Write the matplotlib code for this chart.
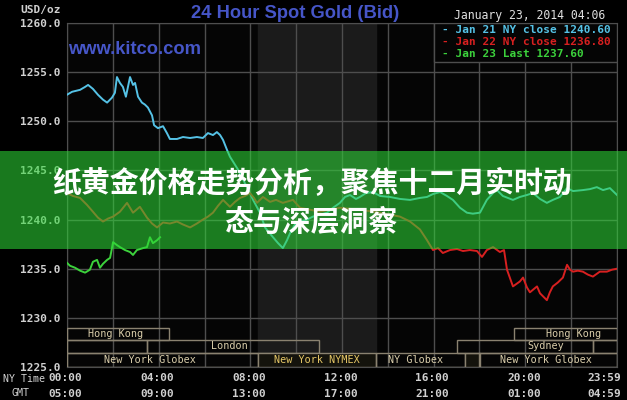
# Kitco 24 hour spot gold chart with a Chinese headline banner
import matplotlib
matplotlib.use('Agg')
import matplotlib.pyplot as plt
from matplotlib.patches import Rectangle

# ---- data (hours NY time, USD/oz) ----
jan21_h = [0.00, 0.22, 0.57, 0.79, 0.92, 1.13, 1.35, 1.57, 1.75, 1.96, 2.09, 2.18, 2.31, 2.44,
           2.57, 2.66, 2.75, 2.88, 2.97, 3.10, 3.27, 3.40, 3.53, 3.71, 3.80, 3.97, 4.19, 4.36,
           4.49, 4.80, 5.06, 5.37, 5.67, 5.93, 6.15, 6.37, 6.54, 6.68, 6.81, 6.98, 7.11, 7.46,
           7.85, 8.12, 8.42, 8.64, 8.99, 9.21, 9.42, 9.60, 9.73, 9.95, 10.17, 10.47, 10.73,
           11.04, 11.34, 11.61, 11.91, 12.13, 12.35, 12.61, 12.78, 13.05, 13.35, 13.66, 14.09,
           14.53, 14.97, 15.40, 15.71, 15.97, 16.28, 16.58, 16.84, 17.15, 17.45, 17.71, 18.02,
           18.32, 18.59, 18.76, 19.02, 19.46, 19.76, 20.07, 20.33, 20.64, 20.94, 21.20, 21.51,
           21.82, 22.08, 22.51, 22.82, 23.12, 23.39, 23.69, 24.00]
jan21_p = [1252.7, 1253.0, 1253.2, 1253.5, 1253.7, 1253.3, 1252.7, 1252.2, 1251.9, 1252.4,
           1252.9, 1254.5, 1253.9, 1253.5, 1252.5, 1253.5, 1254.5, 1253.7, 1253.9, 1252.5,
           1251.9, 1251.7, 1251.4, 1250.6, 1249.6, 1249.3, 1249.5, 1248.8, 1248.2, 1248.2,
           1248.4, 1248.3, 1248.4, 1248.3, 1248.8, 1248.6, 1248.9, 1248.6, 1248.1, 1247.1,
           1246.4, 1245.1, 1243.3, 1242.0, 1240.7, 1239.2, 1238.2, 1237.6, 1237.1, 1237.9,
           1238.6, 1239.5, 1239.8, 1240.0, 1240.3, 1240.5, 1240.7, 1241.2, 1241.7, 1242.3,
           1242.5, 1242.1, 1242.3, 1242.7, 1242.8, 1242.4, 1242.3, 1242.1, 1242.0, 1242.2,
           1242.3, 1242.6, 1242.8, 1242.4, 1242.0, 1241.2, 1240.7, 1240.6, 1240.7, 1242.0,
           1242.7, 1243.0, 1242.4, 1242.0, 1242.3, 1242.5, 1242.7, 1242.1, 1241.7, 1242.0,
           1242.3, 1243.2, 1242.9, 1243.0, 1243.1, 1243.3, 1243.0, 1243.2, 1242.5]

jan22_h = [0.00, 0.26, 0.57, 0.87, 1.13, 1.35, 1.57, 1.79, 2.01, 2.31, 2.62, 2.88, 3.18, 3.49,
           3.71, 3.93, 4.19, 4.49, 4.80, 5.06, 5.37, 5.67, 5.93, 6.15, 6.37, 6.59, 6.81, 7.11,
           7.33, 7.55, 7.77, 7.98, 8.16, 8.29, 8.55, 8.86, 9.12, 9.42, 9.86, 10.17, 11.04,
           11.91, 12.78, 13.66, 14.53, 14.97, 15.40, 15.71, 15.97, 16.19, 16.40, 16.71, 17.02,
           17.28, 17.58, 17.89, 18.11, 18.32, 18.59, 18.89, 19.07, 19.20, 19.46, 19.76, 19.90,
           20.07, 20.20, 20.51, 20.64, 20.94, 21.07, 21.20, 21.42, 21.64, 21.82, 21.95, 22.08,
           22.29, 22.51, 22.73, 22.95, 23.25, 23.56, 23.78, 24.00]
jan22_p = [1242.7, 1242.4, 1242.2, 1241.5, 1240.8, 1240.2, 1239.8, 1240.1, 1240.3, 1240.8,
           1241.7, 1240.7, 1241.3, 1240.2, 1239.6, 1239.2, 1239.7, 1239.6, 1239.8, 1239.5,
           1239.2, 1239.6, 1240.0, 1240.3, 1240.7, 1241.4, 1242.0, 1241.3, 1241.8, 1242.2,
           1242.4, 1242.7, 1242.2, 1241.7, 1242.3, 1241.8, 1242.0, 1241.7, 1242.0, 1241.2,
           1240.8, 1241.2, 1241.0, 1240.7, 1240.3, 1239.8, 1239.0, 1237.9, 1236.9, 1237.1,
           1236.6, 1236.9, 1237.0, 1236.8, 1236.9, 1236.8, 1236.2, 1236.9, 1237.2, 1236.7,
           1236.9, 1234.9, 1233.2, 1233.7, 1234.1, 1233.1, 1232.6, 1233.2, 1232.5, 1231.8,
           1232.6, 1233.2, 1233.6, 1234.1, 1235.4, 1234.9, 1234.7, 1234.8, 1234.7, 1234.4,
           1234.2, 1234.7, 1234.7, 1234.9, 1235.0]

jan23_h = [0.00, 0.13, 0.35, 0.57, 0.79, 1.00, 1.13, 1.31, 1.44, 1.57, 1.75, 1.88, 2.01, 2.18,
           2.31, 2.53, 2.75, 2.88, 3.05, 3.32, 3.49, 3.62, 3.75, 3.93, 4.06]
jan23_p = [1235.6, 1235.3, 1235.1, 1234.8, 1234.6, 1234.9, 1235.7, 1235.9, 1235.1, 1235.5,
           1235.9, 1236.1, 1237.7, 1237.4, 1237.2, 1236.9, 1236.7, 1236.4, 1236.9, 1237.1,
           1237.2, 1238.2, 1237.6, 1237.9, 1238.2]

legend_labels = ['- Jan 21 NY close 1240.60', '- Jan 22 NY close 1236.80', '- Jan 23 Last 1237.60']
line_colors = ['#55c2e6', '#d82020', '#3cd23c']

ny_ticks = ['00:00', '04:00', '08:00', '12:00', '16:00', '20:00', '23:59']
gmt_ticks = ['05:00', '09:00', '13:00', '17:00', '21:00', '01:00', '04:59']
tick_hours = [0, 4, 8, 12, 16, 20, 23.5]

# sessions: (label, start, end, row, label x)
sessions = [
    ('Hong Kong', 0, 4.45, 2, 2.1),
    ('', 0, 3.5, 1, None),
    ('London', 3.5, 11.0, 1, 7.1),
    ('New York Globex', 0, 8.33, 0, 3.6),
    ('New York NYMEX', 8.33, 13.5, 0, 10.9),
    ('NY Globex', 13.5, 17.37, 0, 15.2),
    ('', 17.37, 18.0, 0, None),
    ('New York Globex', 18.0, 24, 0, 20.9),
    ('Sydney', 17.0, 22.95, 1, 20.9),
    ('', 22.95, 24, 1, None),
    ('Hong Kong', 19.5, 24, 2, 22.1),
]
row_bottoms = [0.0, 0.0407, 0.0785]
row_height = [0.0407, 0.0378, 0.0349]

mono = 'DejaVu Sans Mono'
grid_c = '#4e4e4e'
box_c = '#8a8270'

fig = plt.figure(figsize=(6.27, 4.0), dpi=100, facecolor='black')
ax = fig.add_axes([67/627, 33/400, 550/627, 344/400])
ax.set_facecolor('#050505')
ax.set_xlim(0, 24)
ax.set_ylim(1225, 1260)

# NYMEX session shading
ax.axvspan(8.33, 13.5, color='#1b1b1b', zorder=0)

ax.set_xticks(range(0, 25, 2))
ax.set_yticks(range(1225, 1261, 5))
ax.set_yticklabels(['%.1f' % v for v in range(1225, 1261, 5)], family=mono,
                   weight='bold', fontsize=8, color='#d0d0d0')
ax.tick_params(axis='x', length=0, labelbottom=False)
ax.tick_params(axis='y', length=0, pad=4.5)
ax.grid(True, color=grid_c, linewidth=1.0)
ax.set_axisbelow(True)
for s in ax.spines.values():
    s.set_color(grid_c)

ax.plot(jan21_h, jan21_p, color=line_colors[0], lw=1.4, zorder=3)
ax.plot(jan22_h, jan22_p, color=line_colors[1], lw=1.4, zorder=3)
ax.plot(jan23_h, jan23_p, color=line_colors[2], lw=1.4, zorder=3)

# session boxes
tr = ax.get_xaxis_transform()
for name, x0, x1, row, lx in sessions:
    face = '#14130c' if 'NYMEX' in name or name == '' and row == 0 else 'none'
    ax.add_patch(Rectangle((x0, row_bottoms[row]), x1 - x0, row_height[row], transform=tr,
                           facecolor=face, edgecolor=box_c, lw=1.0, zorder=4))
    if name:
        col = '#e6c766' if 'NYMEX' in name else '#d9cdaa'
        ax.text(lx, row_bottoms[row] + row_height[row]/2, name, transform=tr, ha='center',
                va='center', family=mono, fontsize=7.3, color=col, zorder=5)

# legend box
ax.add_patch(Rectangle((16.01, 0.8866), 7.99, 0.1134, transform=tr, facecolor='#050505',
                       edgecolor=grid_c, lw=1.0, zorder=4))
for i, (lab, c) in enumerate(zip(legend_labels, line_colors)):
    fig.text(442/627, 1 - (30 + 12*i)/400, lab, color=c, family=mono, weight='bold',
             fontsize=8, va='center', ha='left', zorder=6)

# time axis labels
for h, a, b in zip(tick_hours, ny_ticks, gmt_ticks):
    ax.text(h - 0.06, -0.032, a, transform=tr, ha='center', va='center', family=mono,
            weight='bold', fontsize=8, color='#d0d0d0')
    ax.text(h - 0.06, -0.078, b, transform=tr, ha='center', va='center', family=mono,
            weight='bold', fontsize=8, color='#d0d0d0')
fig.text(24/627, 1 - 379/400, 'NY Time', family=mono, fontsize=7.2, color='#d0d0d0',
         ha='center', va='center')
fig.text(20/627, 1 - 393/400, 'GMT', family=mono, fontsize=7.2, color='#d0d0d0',
         ha='center', va='center')
fig.text(41/627, 1 - 10/400, 'USD/oz', family=mono, weight='bold', fontsize=8,
         color='#d0d0d0', ha='center', va='center')

# headers
fig.text(295/627, 1 - 13/400, '24 Hour Spot Gold (Bid)', family='Liberation Sans',
         weight='bold', fontsize=13.2, color='#4656c8', ha='center', va='center')
fig.text(68/627, 1 - 49/400, 'www.kitco.com', family='Liberation Sans', weight='bold',
         fontsize=13.2, color='#4656c8', ha='left', va='center')
fig.text(530/627, 1 - 15/400, 'January 23, 2014 04:06', family=mono, fontsize=8.3,
         color='#e0e0e0', ha='center', va='center')

# green headline banner
fig.add_artist(Rectangle((0, 151/400), 1, 98/400, transform=fig.transFigure,
                         facecolor=(45/255, 215/255, 54/255), alpha=0.57, lw=0, zorder=20))
fig.text(0.497, 1 - 183/400, '纸黄金价格走势分析，聚焦十二月实时动',
         family=['Noto Sans CJK SC', 'DejaVu Sans'], weight='heavy', fontsize=20.8,
         color='white', ha='center', va='center', zorder=21)
fig.text(0.497, 1 - 222/400, '态与深层洞察',
         family=['Noto Sans CJK SC', 'DejaVu Sans'], weight='heavy', fontsize=20.8,
         color='white', ha='center', va='center', zorder=21)

fig.savefig('out.png', dpi=100, facecolor='black')
